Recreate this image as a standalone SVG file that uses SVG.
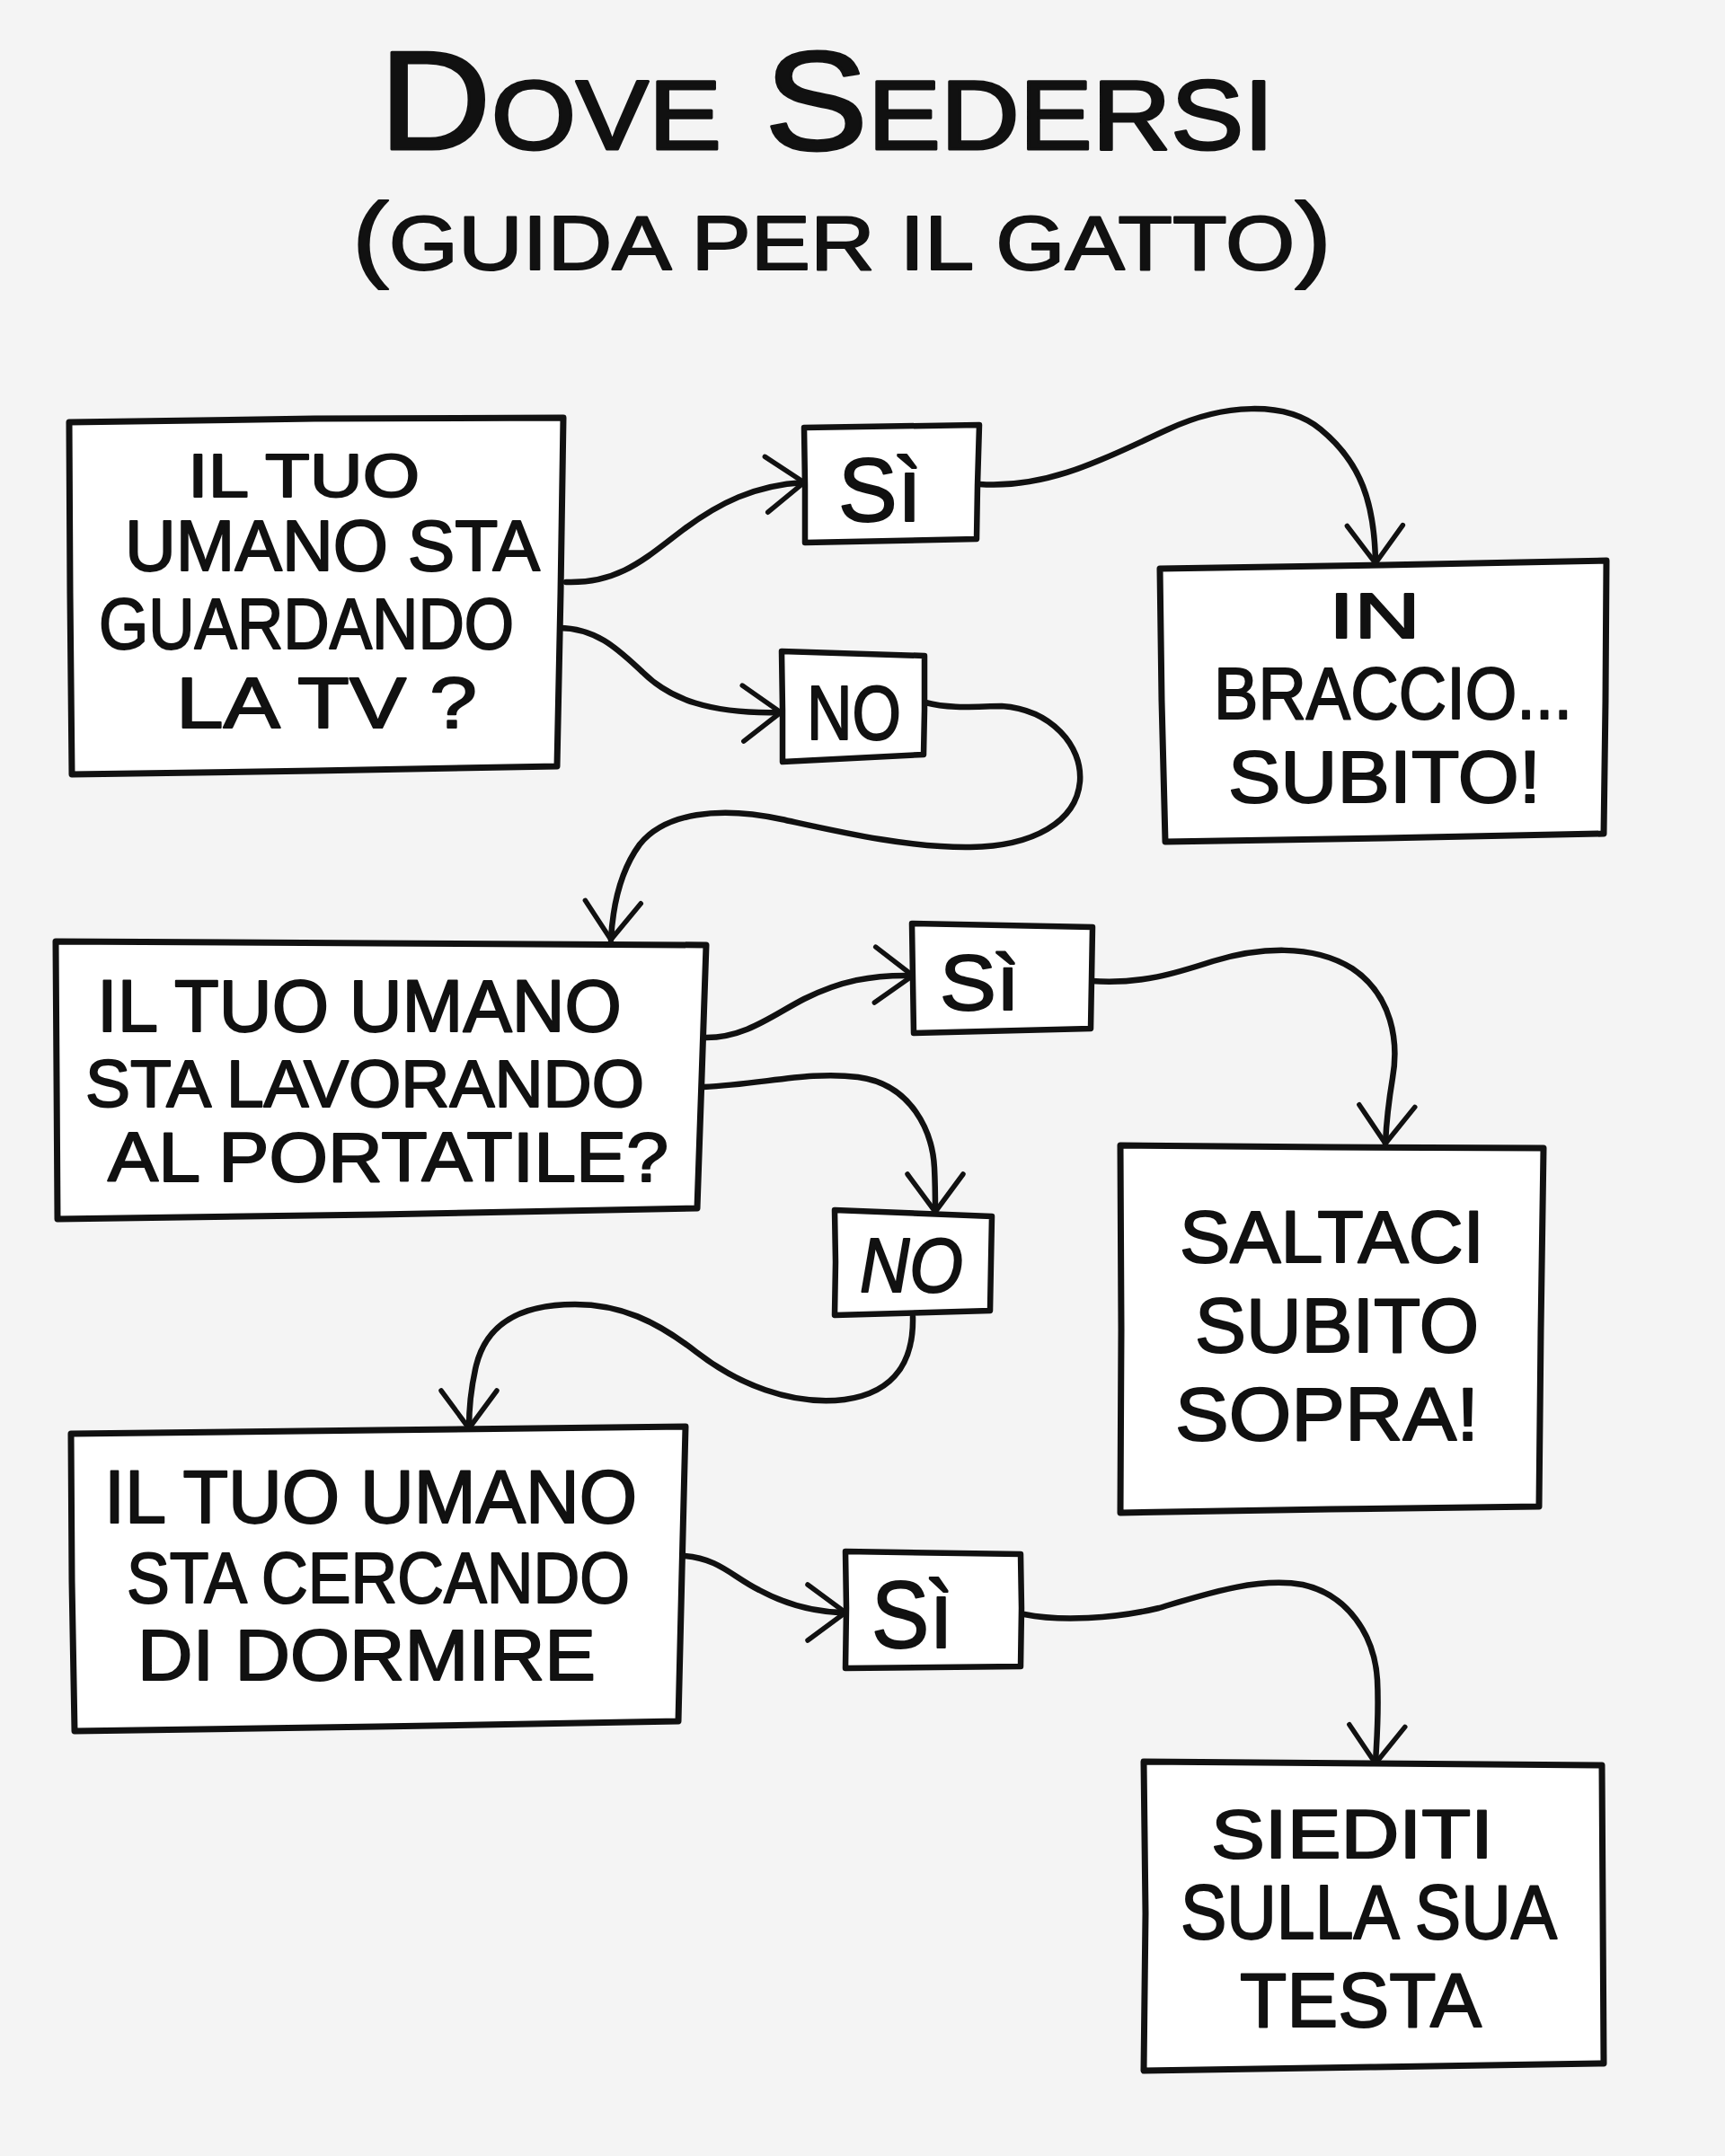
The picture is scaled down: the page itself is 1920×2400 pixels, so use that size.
<svg xmlns="http://www.w3.org/2000/svg" width="1920" height="2400" viewBox="0 0 1920 2400">
<style>
.bg{fill:#f4f4f4}
.box{fill:#ffffff;stroke:#111111;stroke-width:7;stroke-linejoin:round}
.lbl{fill:#ffffff;stroke:#111111;stroke-width:6.5;stroke-linejoin:round}
.t{font-family:"Liberation Sans",Arial,sans-serif;fill:#111111;stroke:#111111;stroke-width:2;stroke-linejoin:round}
.conn{fill:none;stroke:#111111;stroke-width:6.5;stroke-linecap:round;stroke-linejoin:round}
</style>
<defs>
<marker id="ah" markerUnits="userSpaceOnUse" markerWidth="70" markerHeight="90" viewBox="-55 -45 70 90" refX="0" refY="0" orient="auto" overflow="visible">
<path d="M-42,-31 L0,0 L-42,31" fill="none" stroke="#111111" stroke-width="5.5" stroke-linecap="round" stroke-linejoin="round"/>
</marker>
</defs>
<rect class="bg" x="0" y="0" width="1920" height="2400"/>

<g id="title">
<text class="t" x="422" y="166" font-size="155" style="font-variant:small-caps;stroke-width:3" textLength="996" lengthAdjust="spacingAndGlyphs">Dove Sedersi</text>
<text class="t" x="392" y="300" font-size="86" textLength="1090" lengthAdjust="spacingAndGlyphs"><tspan font-size="106">(</tspan>GUIDA PER IL GATTO<tspan font-size="106">)</tspan></text>
</g>

<g id="connectors">
<path class="conn" marker-end="url(#ah)" d="M630,648 C690,650 720,620 760,590 C800,560 840,540 895,537"/>
<path class="conn" marker-end="url(#ah)" d="M622,699 C665,699 690,725 715,748 C745,778 790,795 869,793"/>
<path class="conn" marker-end="url(#ah)" d="M1090,539 C1170,545 1240,505 1300,478 C1360,450 1430,445 1470,478 C1515,515 1530,560 1531,627"/>
<path class="conn" marker-end="url(#ah)" d="M1030,782 C1060,790 1090,786 1115,786 C1170,790 1205,830 1202,870 C1198,915 1150,942 1080,943 C1010,944 930,925 870,912 C800,897 740,905 712,940 C690,970 682,1010 680,1046"/>
<path class="conn" marker-end="url(#ah)" d="M786,1155 C830,1155 860,1130 895,1112 C935,1092 970,1085 1016,1086"/>
<path class="conn" marker-end="url(#ah)" d="M783,1210 C850,1207 900,1192 955,1199 C1015,1207 1038,1260 1040,1300 C1041,1320 1041,1335 1041,1349"/>
<path class="conn" marker-end="url(#ah)" d="M1215,1092 C1270,1096 1310,1083 1350,1070 C1400,1055 1460,1050 1505,1078 C1550,1108 1557,1160 1550,1200 C1545,1230 1543,1250 1542,1273"/>
<path class="conn" marker-end="url(#ah)" d="M1016,1466 C1017,1510 1000,1550 940,1558 C880,1565 820,1540 775,1505 C730,1470 690,1452 640,1452 C570,1452 540,1480 530,1520 C523,1550 522,1570 522,1590"/>
<path class="conn" marker-end="url(#ah)" d="M762,1732 C800,1735 815,1755 845,1770 C875,1786 905,1795 941,1795"/>
<path class="conn" marker-end="url(#ah)" d="M1140,1797 C1180,1805 1240,1802 1290,1790 C1340,1775 1400,1755 1450,1764 C1500,1775 1530,1820 1533,1870 C1535,1910 1532,1940 1531,1963"/>
</g>

<g id="q1">
<path class="box" d="M77,470 L350,466 L627,465 L624,660 L620,853 L350,858 L80,862 L78,660 Z"/>
<text class="t" x="209" y="553" font-size="68" textLength="258" lengthAdjust="spacingAndGlyphs">IL TUO</text>
<text class="t" x="139" y="635" font-size="80" textLength="462" lengthAdjust="spacingAndGlyphs">UMANO STA</text>
<text class="t" x="110" y="722" font-size="80" textLength="462" lengthAdjust="spacingAndGlyphs">GUARDANDO</text>
<text class="t" x="196" y="810" font-size="80" textLength="335" lengthAdjust="spacingAndGlyphs">LA TV ?</text>
</g>

<g id="si1">
<path class="lbl" d="M895,476 L1090,473 L1088,540 L1087,600 L896,604 L896,540 Z"/>
<text class="t" x="933" y="580" font-size="100" textLength="93" lengthAdjust="spacingAndGlyphs">Sì</text>
</g>

<g id="no1">
<path class="lbl" d="M870,725 L1029,730 L1029,790 L1028,840 L871,848 L871,790 Z"/>
<text class="t" x="898" y="823" font-size="86" textLength="105" lengthAdjust="spacingAndGlyphs">NO</text>
</g>

<g id="r1">
<path class="box" d="M1291,633 L1540,629 L1788,624 L1787,780 L1785,928 L1540,933 L1297,937 L1293,780 Z"/>
<text class="t" x="1479" y="710" font-size="70" textLength="102" lengthAdjust="spacingAndGlyphs">IN</text>
<text class="t" x="1351" y="800" font-size="82" textLength="399" lengthAdjust="spacingAndGlyphs">BRACCIO...</text>
<text class="t" x="1367" y="893" font-size="82" textLength="348" lengthAdjust="spacingAndGlyphs">SUBITO!</text>
</g>

<g id="q2">
<path class="box" d="M62,1048 L420,1050 L786,1052 L781,1200 L776,1345 L420,1352 L64,1357 L63,1200 Z"/>
<text class="t" x="108" y="1148" font-size="82" textLength="584" lengthAdjust="spacingAndGlyphs">IL TUO UMANO</text>
<text class="t" x="95" y="1232" font-size="74" textLength="622" lengthAdjust="spacingAndGlyphs">STA LAVORANDO</text>
<text class="t" x="120" y="1315" font-size="78" textLength="624" lengthAdjust="spacingAndGlyphs">AL PORTATILE?</text>
</g>

<g id="si2">
<path class="lbl" d="M1015,1028 L1216,1032 L1215,1090 L1214,1145 L1017,1150 L1016,1090 Z"/>
<text class="t" x="1046" y="1124" font-size="88" textLength="89" lengthAdjust="spacingAndGlyphs">Sì</text>
</g>

<g id="r2">
<path class="box" d="M1247,1275 L1480,1277 L1718,1278 L1715,1480 L1713,1677 L1480,1680 L1247,1684 L1248,1480 Z"/>
<text class="t" x="1313" y="1405" font-size="82" textLength="339" lengthAdjust="spacingAndGlyphs">SALTACI</text>
<text class="t" x="1330" y="1505" font-size="86" textLength="316" lengthAdjust="spacingAndGlyphs">SUBITO</text>
<text class="t" x="1308" y="1603" font-size="83" textLength="338" lengthAdjust="spacingAndGlyphs">SOPRA!</text>
</g>

<g id="no2">
<path class="lbl" d="M929,1347 L1104,1354 L1103,1405 L1102,1459 L929,1464 L930,1405 Z"/>
<text class="t" x="957" y="1438" font-size="86" font-style="italic" textLength="115" lengthAdjust="spacingAndGlyphs">NO</text>
</g>

<g id="q3">
<path class="box" d="M79,1596 L420,1592 L763,1588 L759,1750 L755,1916 L420,1922 L83,1927 L80,1760 Z"/>
<text class="t" x="116" y="1695" font-size="84" textLength="593" lengthAdjust="spacingAndGlyphs">IL TUO UMANO</text>
<text class="t" x="141" y="1784" font-size="80" textLength="560" lengthAdjust="spacingAndGlyphs">STA CERCANDO</text>
<text class="t" x="153" y="1870" font-size="80" textLength="510" lengthAdjust="spacingAndGlyphs">DI DORMIRE</text>
</g>

<g id="si3">
<path class="lbl" d="M941,1727 L1136,1730 L1137,1790 L1136,1855 L941,1857 L942,1790 Z"/>
<text class="t" x="970" y="1834" font-size="105" textLength="91" lengthAdjust="spacingAndGlyphs">Sì</text>
</g>

<g id="r3">
<path class="box" d="M1273,1961 L1530,1963 L1783,1965 L1784,2130 L1785,2297 L1530,2301 L1273,2305 L1275,2130 Z"/>
<text class="t" x="1348" y="2068" font-size="76" textLength="314" lengthAdjust="spacingAndGlyphs">SIEDITI</text>
<text class="t" x="1314" y="2158" font-size="86" textLength="419" lengthAdjust="spacingAndGlyphs">SULLA SUA</text>
<text class="t" x="1380" y="2256" font-size="85" textLength="269" lengthAdjust="spacingAndGlyphs">TESTA</text>
</g>
</svg>
